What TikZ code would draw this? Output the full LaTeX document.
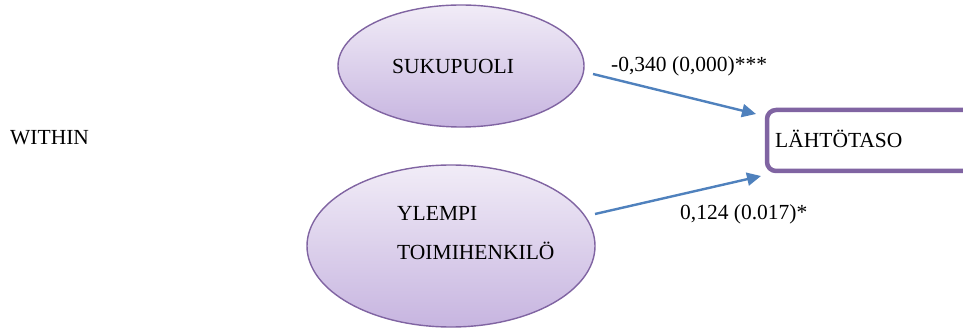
\documentclass[tikz,border=0pt]{standalone}
\usepackage{fontspec}
\setmainfont{Liberation Serif}
\usetikzlibrary{arrows.meta,shapes.geometric}
\definecolor{opurple}{HTML}{8064A2}
\definecolor{oblue}{HTML}{4F81BD}
\definecolor{ltop}{HTML}{F1ECF7}
\definecolor{lbot}{HTML}{C7B5E0}
\tikzset{
  lbl/.style={inner sep=0pt, font=\fontsize{21.5}{25}\selectfont, anchor=west},
  oval/.style={ellipse, draw=opurple, line width=1.4pt, top color=ltop, bottom color=lbot, inner sep=0pt},
  conn/.style={draw=oblue, line width=2.4pt, -{Triangle[length=14pt,width=13pt]}},
}
\begin{document}
\begin{tikzpicture}[x=1pt,y=-1pt]
\clip (0,0) rectangle (963,331);
\fill[white] (0,0) rectangle (963,331);
\node[oval, minimum width=246pt, minimum height=122pt] (suk) at (461,66) {};
\node[oval, minimum width=288pt, minimum height=162pt] (ylm) at (451,246) {};
\node[lbl] (suktxt) at (392,66) {SUKUPUOLI};
\node[lbl] (ylm1) at (397,213) {YLEMPI};
\node[lbl] (ylm2) at (397,251) {TOIMIHENKILÖ};
\draw[opurple, line width=4.5pt, rounded corners=9pt] (767,110) rectangle (1010,171);
\node[lbl] (lah) at (775,139) {LÄHTÖTASO};
\node[lbl] (within) at (10,138) {WITHIN};
\coordinate (a1s) at (593,74);
\coordinate (a1e) at (756,114);
\coordinate (a2s) at (595,214);
\coordinate (a2e) at (761,176);
\draw[conn] (a1s) -- (a1e);
\draw[conn] (a2s) -- (a2e);
\node[lbl] (l1) at (611,66) {-0,340 (0,000)***};
\node[lbl] (l2) at (680,214) {0,124 (0.017)*};
\end{tikzpicture}
\end{document}
